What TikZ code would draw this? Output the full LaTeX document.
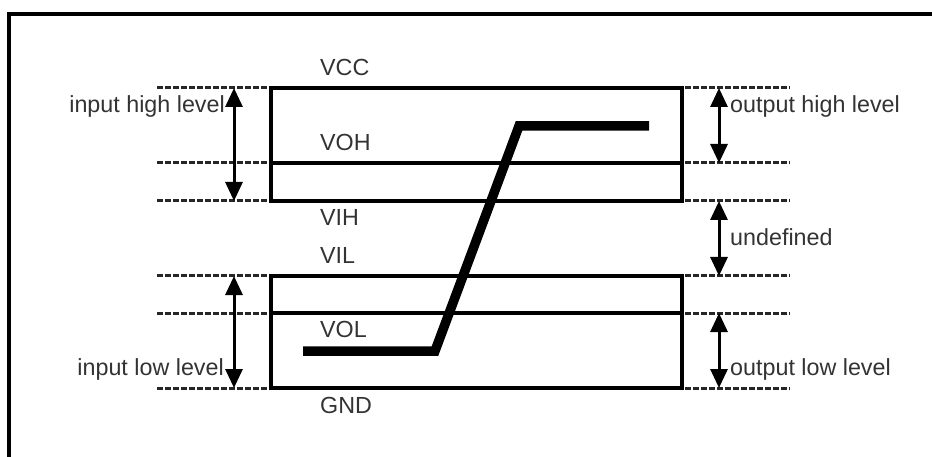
\documentclass[tikz,border=0pt]{standalone}
\usepackage{fontspec}
\setmainfont{Liberation Sans}
\usetikzlibrary{arrows.meta}
\begin{document}
\begin{tikzpicture}[x=1pt,y=-1pt,
  frame/.style={line width=3.6pt, black},
  level/.style={line width=3pt, black!85, dash pattern=on 5.5pt off 2.5pt},
  boxline/.style={line width=3.4pt, black},
  dim/.style={line width=3pt, black, {Triangle[width=17pt,length=19pt]}-{Triangle[width=17pt,length=19pt]}},
  signal/.style={line width=9.5pt, black, line cap=butt, line join=miter},
  lbl/.style={inner sep=0pt, text=black!80, font=\fontsize{23.3}{28}\selectfont}]
\useasboundingbox (0,0) rectangle (932,457);
% frame
\draw[frame] (9,457) -- (9,14) -- (932,14);
% level coordinates
\coordinate (vccL) at (157,88);  \coordinate (vccR) at (790,88);
\coordinate (vohL) at (157,163); \coordinate (vohR) at (790,163);
\coordinate (vihL) at (157,201); \coordinate (vihR) at (790,201);
\coordinate (vilL) at (157,276); \coordinate (vilR) at (790,276);
\coordinate (volL) at (157,313); \coordinate (volR) at (790,313);
\coordinate (gndL) at (157,388); \coordinate (gndR) at (790,388);
% dashed levels
\foreach \n in {vcc,voh,vih,vil,vol,gnd} \draw[level] (\n L) -- (\n R);
% boxes
\draw[boxline] (271,88) rectangle (682,201);
\draw[boxline] (271,163) -- (682,163);
\draw[boxline] (271,276) rectangle (682,388);
\draw[boxline] (271,313) -- (682,313);
% arrow end coordinates
\coordinate (a1) at (234,88);  \coordinate (a2) at (234,201);
\coordinate (a3) at (234,276); \coordinate (a4) at (234,388);
\coordinate (b1) at (719,88);  \coordinate (b2) at (719,163);
\coordinate (b3) at (719,201); \coordinate (b4) at (719,276);
\coordinate (b5) at (719,313); \coordinate (b6) at (719,388);
\draw[dim] (a1) -- (a2);
\draw[dim] (a3) -- (a4);
\draw[dim] (b1) -- (b2);
\draw[dim] (b3) -- (b4);
\draw[dim] (b5) -- (b6);
% signal
\coordinate (s1) at (303,351); \coordinate (s2) at (435,351);
\coordinate (s3) at (519,126); \coordinate (s4) at (649,126);
\draw[signal] (s1) -- (s2) -- (s3) -- (s4);
% labels
\node[lbl, anchor=base east] (ihl) at (225,113) {input high level};
\node[lbl, anchor=base east] (ill) at (224,375) {input low level};
\node[lbl, anchor=base west] (ohl) at (730,113) {output high level};
\node[lbl, anchor=base west] (und) at (730,246) {undefined};
\node[lbl, anchor=base west] (oll) at (730,375) {output low level};
\node[lbl, anchor=base west] (vcc) at (320,76) {VCC};
\node[lbl, anchor=base west] (voh) at (320,151) {VOH};
\node[lbl, anchor=base west] (vih) at (320,226) {VIH};
\node[lbl, anchor=base west] (vil) at (320,264) {VIL};
\node[lbl, anchor=base west] (vol) at (320,337) {VOL};
\node[lbl, anchor=base west] (gnd) at (320,413) {GND};
\end{tikzpicture}
\end{document}
